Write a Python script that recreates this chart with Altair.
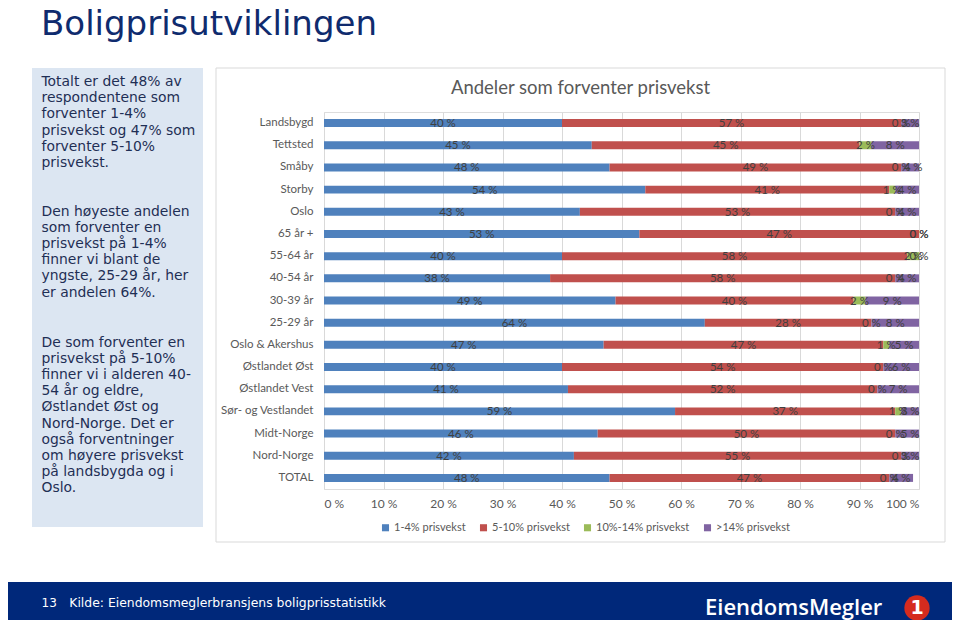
import altair as alt
import pandas as pd

categories = ["Landsbygd", "Tettsted", "Småby", "Storby", "Oslo", "65 år +", "55-64 år",
              "40-54 år", "30-39 år", "25-29 år", "Oslo & Akershus", "Østlandet Øst",
              "Østlandet Vest", "Sør- og Vestlandet", "Midt-Norge", "Nord-Norge", "TOTAL"]
series_names = ["1-4% prisvekst", "5-10% prisvekst", "10%-14% prisvekst", ">14% prisvekst"]
s_1_4 = [40, 45, 48, 54, 43, 53, 40, 38, 49, 64, 47, 40, 41, 59, 46, 42, 48]
s_5_10 = [57, 45, 49, 41, 53, 47, 58, 58, 40, 28, 47, 54, 52, 37, 50, 55, 47]
s_10_14 = [0, 2, 0, 1, 0, 0, 2, 0, 2, 0, 1, 0, 0, 1, 0, 0, 0]
s_14p = [3, 8, 4, 4, 4, 0, 0, 4, 9, 8, 5, 6, 7, 3, 5, 3, 4]
colors = ["#4F81BD", "#C0504D", "#9BBB59", "#8064A2"]
x_ticks = [0, 10, 20, 30, 40, 50, 60, 70, 80, 90, 100]

slide_title = "Boligprisutviklingen"
chart_title = "Andeler som forventer prisvekst"
para1 = ["Totalt er det 48% av", "respondentene som", "forventer 1-4%",
         "prisvekst og 47% som", "forventer 5-10%", "prisvekst."]
para2 = ["Den høyeste andelen", "som forventer en", "prisvekst på 1-4%",
         "finner vi blant de", "yngste, 25-29 år, her", "er andelen 64%."]
para3 = ["De som forventer en", "prisvekst på 5-10%", "finner vi i alderen 40-",
         "54 år og eldre,", "Østlandet Øst og", "Nord-Norge. Det er",
         "også forventninger", "om høyere prisvekst", "på landsbygda og i", "Oslo."]
page_no = "13"
source = "Kilde: Eiendomsmeglerbransjens boligprisstatistikk"
logo = "EiendomsMegler"

rows = []
for k, vals in enumerate([s_1_4, s_5_10, s_10_14, s_14p]):
    for c, v in zip(categories, vals):
        rows.append({"cat": c, "series": series_names[k], "k": k, "value": v})
df = pd.DataFrame(rows)
dummy = pd.DataFrame({"a": [0]})

LF = "Lato"
GREY = "#595959"

base = alt.Chart(df).transform_stack(
    stack="value", groupby=["cat"], as_=["v0", "v1"],
    sort=[alt.SortField(field="k", order="ascending")]
).transform_calculate(
    mid="(datum.v0 + datum.v1) / 2", lbl="datum.value + ' %'"
)

yenc = alt.Y("cat:N", sort=categories, title=None,
             scale=alt.Scale(paddingInner=0.64, paddingOuter=0.32),
             axis=alt.Axis(domain=False, ticks=False, labelPadding=11, labelFont=LF,
                           labelFontSize=11.5, labelColor=GREY, grid=False))

bars = base.mark_bar(clip=True).encode(
    y=yenc,
    x=alt.X("v0:Q", title=None, scale=alt.Scale(domain=[0, 100], nice=False),
            axis=alt.Axis(values=x_ticks, labelExpr="datum.value + ' %'", grid=True,
                          gridColor="#D9D9D9", domain=False, ticks=False, labelPadding=9,
                          labelFont=LF, labelFontSize=12, labelColor=GREY)),
    x2="v1:Q",
    color=alt.Color("series:N", scale=alt.Scale(domain=series_names, range=colors),
                    legend=alt.Legend(orient="none", legendX=56, legendY=410,
                                      direction="horizontal", title=None,
                                      symbolType="square", symbolSize=50,
                                      symbolStrokeWidth=0, labelFont=LF,
                                      labelFontSize=11, labelColor=GREY,
                                      labelOffset=3, columnPadding=12)),
)

labels = base.mark_text(font=LF, fontSize=11.5, color="#404040", dy=1).encode(
    y=alt.Y("cat:N", sort=categories),
    x=alt.X("mid:Q"),
    text="lbl:N",
)

deco = alt.Chart(dummy)

chart_border = deco.mark_rect(fillOpacity=0, stroke="#D9D9D9", strokeWidth=1).encode(
    x=alt.value(-108), x2=alt.value(621), y=alt.value(-44), y2=alt.value(430))
left_box = deco.mark_rect(fill="#DCE6F2").encode(
    x=alt.value(-292), x2=alt.value(-121), y=alt.value(-44), y2=alt.value(415))
footer = deco.mark_rect(fill="#00287A").encode(
    x=alt.value(-340), x2=alt.value(650), y=alt.value(470), y2=alt.value(530))

title_txt = deco.mark_text(font="DejaVu Sans", fontSize=34, color="#0F2B6E",
                           align="left", baseline="alphabetic").encode(
    x=alt.value(-283), y=alt.value(-77), text=alt.value(slide_title))
chart_title_txt = deco.mark_text(font=LF, fontSize=18.5, color=GREY,
                                 align="center", baseline="middle").encode(
    x=alt.value(256.5), y=alt.value(-24), text=alt.value(chart_title))

def para(lines, y):
    return deco.mark_text(font="DejaVu Sans", fontSize=13.9, color="#1F2F55",
                          align="left", baseline="alphabetic", lineHeight=16.2).encode(
        x=alt.value(-282.5), y=alt.value(y), text=alt.value(lines))

p1 = para(para1, -26)
p2 = para(para2, 103.5)
p3 = para(para3, 234.5)

page_txt = deco.mark_text(font="DejaVu Sans", fontSize=12, color="white",
                          align="left", baseline="alphabetic").encode(
    x=alt.value(-282.5), y=alt.value(494.5), text=alt.value(page_no))
source_txt = deco.mark_text(font="DejaVu Sans", fontSize=12.4, color="white",
                            align="left", baseline="alphabetic").encode(
    x=alt.value(-254.7), y=alt.value(494.5), text=alt.value(source))
logo_txt = deco.mark_text(font="Open Sans", fontSize=22, fontWeight=600, color="white",
                          align="left", baseline="alphabetic").encode(
    x=alt.value(381), y=alt.value(503), text=alt.value(logo))
logo_circle = deco.mark_circle(color="#D52B1E", opacity=1).encode(
    x=alt.value(593), y=alt.value(496), size=alt.value(640))
logo_one = deco.mark_text(font="DejaVu Sans", fontSize=19, fontWeight="bold", color="white",
                          align="center", baseline="middle").encode(
    x=alt.value(593), y=alt.value(496), text=alt.value("1"))

chart = alt.layer(
    left_box, chart_border, footer, title_txt, chart_title_txt, p1, p2, p3,
    page_txt, source_txt, logo_txt, logo_circle, logo_one, bars, labels
).properties(
    width=595, height=377,
    autosize=alt.AutoSizeParams(type="none"),
    padding={"left": 316, "top": 104, "right": 33, "bottom": 131},
).configure_view(strokeWidth=0).configure(background="white")

chart.save("out.html", embed_options={"renderer": "svg", "actions": False})
